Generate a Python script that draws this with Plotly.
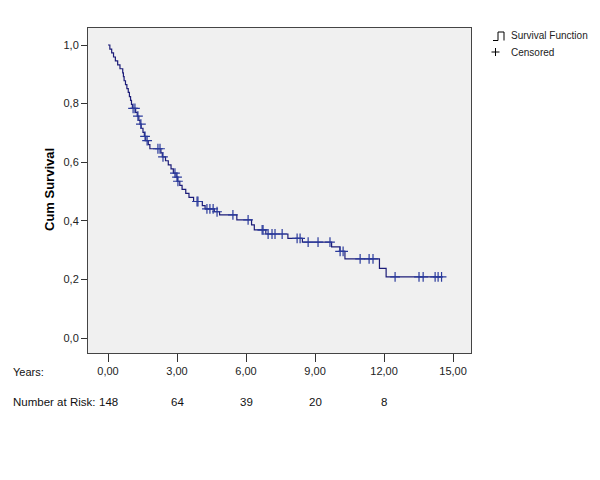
import plotly.graph_objects as go

# ---- data ----
event_time = [0, 0.08, 0.16, 0.24, 0.32, 0.42, 0.52, 0.64, 0.67, 0.70, 0.76, 0.82, 0.88, 0.93, 0.98,
              1.02, 1.06, 1.20, 1.27, 1.34, 1.39, 1.44, 1.52, 1.58, 1.64, 1.75, 1.82, 2.30, 2.36,
              2.50, 2.62, 2.74, 2.84, 2.96, 3.02, 3.12, 3.22, 3.38, 3.52, 3.72, 4.10, 4.22, 4.62,
              4.85, 5.60, 6.24, 6.36, 6.86, 7.82, 8.45, 9.72, 10.08, 10.30, 11.80, 12.09]
survival = [1.0, 0.986, 0.973, 0.959, 0.946, 0.932, 0.919, 0.905, 0.892, 0.878, 0.865, 0.851, 0.838,
            0.824, 0.811, 0.797, 0.784, 0.770, 0.757, 0.743, 0.730, 0.716, 0.702, 0.688, 0.674,
            0.660, 0.646, 0.632, 0.618, 0.605, 0.591, 0.577, 0.563, 0.549, 0.535, 0.521, 0.507,
            0.494, 0.480, 0.466, 0.452, 0.441, 0.431, 0.420, 0.403, 0.386, 0.369, 0.355, 0.340,
            0.327, 0.311, 0.296, 0.270, 0.238, 0.209]
last_followup = 14.5

censor_time = [1.09, 1.17, 1.30, 1.43, 1.61, 1.70, 2.17, 2.26, 2.39, 2.91, 3.00, 3.04, 3.87, 3.91,
               4.30, 4.43, 4.57, 4.74, 5.43, 6.09, 6.70, 6.74, 6.96, 7.13, 7.26, 7.57, 8.22, 8.35,
               8.70, 9.13, 9.65, 10.09, 10.22, 10.96, 11.35, 11.52, 12.48, 13.52, 13.70, 14.22,
               14.35, 14.5]

x_ticks = [0, 3, 6, 9, 12, 15]
y_ticks = [0.0, 0.2, 0.4, 0.6, 0.8, 1.0]
risk_times = [0, 3, 6, 9, 12]
risk_counts = [148, 64, 39, 20, 8]


def surv_at(t):
    s = survival[0]
    for et, sv in zip(event_time, survival):
        if et <= t:
            s = sv
    return s


censor_surv = [surv_at(t) for t in censor_time]

line_x = event_time + [last_followup]
line_y = survival + [survival[-1]]

FONT = "Arial, Liberation Sans, sans-serif"

fig = go.Figure()
fig.add_trace(go.Scatter(x=line_x, y=line_y, mode="lines", line=dict(shape="hv", color="#1c1c78", width=1.2),
                         hoverinfo="skip", showlegend=False))
fig.add_trace(go.Scatter(x=censor_time, y=censor_surv, mode="markers",
                         marker=dict(symbol="cross-thin", size=7, line=dict(color="#2a3a9c", width=1.2)),
                         showlegend=False))

# pixel -> paper helpers (plot area: x 88..471, y 28..353)
L, R, T, B = 88, 471, 28, 353


def xp(px):
    return (px - L) / (R - L)


def yp(py):
    return (B - py) / (B - T)


annotations = []
# y axis title
annotations.append(dict(text="<b>Cum Survival</b>", x=xp(49), y=yp(190), xref="paper", yref="paper",
                        xanchor="center", yanchor="middle",
                        textangle=-90, showarrow=False, font=dict(family=FONT, size=13, color="#000")))
# Years row label
annotations.append(dict(text="Years:", x=xp(11), y=yp(372), xref="paper", yref="paper", xanchor="left",
                        yanchor="middle", showarrow=False, font=dict(family=FONT, size=11, color="#111")))
annotations.append(dict(text="Number at Risk:", x=xp(11), y=yp(402), xref="paper", yref="paper",
                        xanchor="left", yanchor="middle", showarrow=False,
                        font=dict(family=FONT, size=11.5, color="#111")))
for t, n in zip(risk_times, risk_counts):
    annotations.append(dict(text=str(n), x=t, y=yp(402), xref="x", yref="paper", showarrow=False,
                            xanchor="center", yanchor="middle",
                            font=dict(family=FONT, size=11.5, color="#111")))
# legend
annotations.append(dict(text="Survival Function", x=xp(509), y=yp(36), xref="paper", yref="paper",
                        xanchor="left", yanchor="middle", showarrow=False,
                        font=dict(family=FONT, size=10, color="#222")))
annotations.append(dict(text="Censored", x=xp(509), y=yp(52), xref="paper", yref="paper",
                        xanchor="left", yanchor="middle", showarrow=False,
                        font=dict(family=FONT, size=10, color="#222")))

shapes = [
    dict(type="path", xref="paper", yref="paper",
         path=f"M {xp(493)} {yp(40.5)} L {xp(498)} {yp(40.5)} L {xp(498)} {yp(32)} "
              f"L {xp(504)} {yp(32)} L {xp(504)} {yp(40.5)}",
         line=dict(color="#000", width=1)),
    dict(type="line", xref="paper", yref="paper", x0=xp(491.5), x1=xp(499.5), y0=yp(52), y1=yp(52),
         line=dict(color="#000", width=1)),
    dict(type="line", xref="paper", yref="paper", x0=xp(495.5), x1=xp(495.5), y0=yp(48), y1=yp(56),
         line=dict(color="#000", width=1)),
]

fig.update_layout(
    width=600, height=480,
    margin=dict(l=L, r=600 - R, t=T, b=480 - B, autoexpand=False),
    paper_bgcolor="white", plot_bgcolor="#f0f0f0",
    separators=",.",
    showlegend=False,
    annotations=annotations,
    shapes=shapes,
    font=dict(family=FONT, size=11, color="#222"),
)
fig.update_xaxes(range=[-0.87, 15.78], tickvals=x_ticks, tickformat=".2f", showgrid=False, zeroline=False,
                 showline=True, mirror=True, linecolor="#444", linewidth=1, automargin=False,
                 ticks="outside", ticklen=8, tickcolor="#333", tickfont=dict(family=FONT, size=11, color="#222"))
fig.update_yaxes(range=[-0.051, 1.058], tickvals=y_ticks, tickformat=".1f", showgrid=False, zeroline=False,
                 showline=True, mirror=True, linecolor="#444", linewidth=1, automargin=False,
                 ticks="outside", ticklen=6, tickcolor="#333", tickfont=dict(family=FONT, size=11, color="#222"))

fig.write_html("out.html", config={"displayModeBar": False},
               post_script="document.body.style.margin='0';document.body.style.padding='0';")
